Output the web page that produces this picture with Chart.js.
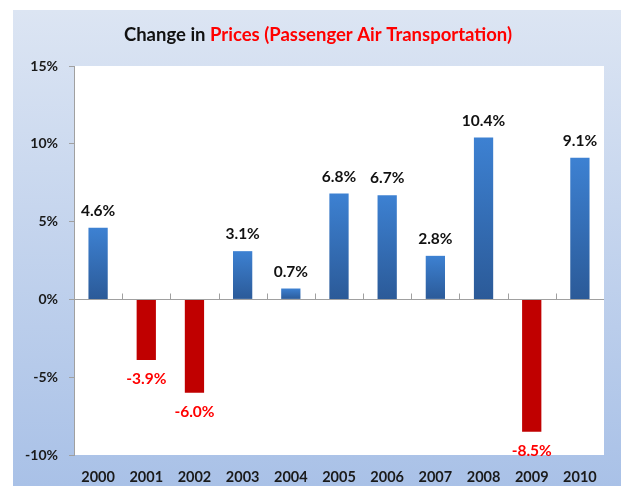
<!DOCTYPE html>
<html>
<head>
<meta charset="utf-8">
<script src="https://cdn.jsdelivr.net/npm/chart.js@4/dist/chart.umd.min.js"></script>
<style>
  html, body { margin: 0; padding: 0; background: #fff; }
  #wrap { width: 621px; height: 486px; position: relative; }
</style>
</head>
<body>
<div id="wrap"><canvas id="barChart" width="621" height="486"></canvas></div>
<script>
// datos del gráfico
const years = ["2000","2001","2002","2003","2004","2005","2006","2007","2008","2009","2010"];
const changes = [4.6, -3.9, -6.0, 3.1, 0.7, 6.8, 6.7, 2.8, 10.4, -8.5, 9.1];
const yTicks = [-10, -5, 0, 5, 10, 15];

const FONT = "Lato, 'Open Sans', sans-serif";

// fondo, área blanca, título y etiquetas
const decor = {
  id: "decor",
  beforeDraw(chart){
    const c = chart.ctx, a = chart.chartArea;
    c.save();
    c.fillStyle = "#ffffff";
    c.fillRect(0, 0, chart.width, chart.height);
    const g = c.createLinearGradient(0, 10, 0, chart.height);
    g.addColorStop(0, "#dce5f3");
    g.addColorStop(1, "#a9c1e7");
    c.fillStyle = g;
    c.fillRect(13, 10, chart.width - 13, chart.height - 10);
    c.fillStyle = "#ffffff";
    c.fillRect(a.left, a.top, a.right - a.left, a.bottom - a.top);

    // título en dos colores
    c.font = "bold 18.5px " + FONT;
    c.textBaseline = "middle";
    const p1 = "Change in ", p2 = "Prices (Passenger Air Transportation)";
    const w1 = c.measureText(p1).width, w2 = c.measureText(p2).width;
    let x = 318 - (w1 + w2) / 2;
    c.fillStyle = "#111111";
    c.textAlign = "left";
    c.fillText(p1, x, 35);
    c.fillStyle = "#ff0000";
    c.fillText(p2, x + w1, 35);
    c.restore();
  },
  afterDatasetsDraw(chart){
    const c = chart.ctx, a = chart.chartArea;
    const y = chart.scales.y;
    const y0 = Math.round(y.getPixelForValue(0)) + 0.5;
    c.save();
    // eje horizontal en 0 con marcas entre categorías
    c.strokeStyle = "#a0a0a0";
    c.lineWidth = 1;
    c.beginPath();
    c.moveTo(a.left, y0);
    c.lineTo(a.right, y0);
    const step = (a.right - a.left) / years.length;
    for (let i = 1; i < years.length; i++){
      const tx = Math.round(a.left + step * i) + 0.5;
      c.moveTo(tx, y0);
      c.lineTo(tx, y0 - 6);
    }
    c.stroke();

    // etiquetas de valor
    c.font = "bold 15.5px " + FONT;
    c.textAlign = "center";
    c.textBaseline = "middle";
    const meta = chart.getDatasetMeta(0);
    meta.data.forEach((bar, i) => {
      const v = changes[i];
      const txt = v.toFixed(1) + "%";
      if (v >= 0){
        c.fillStyle = "#111111";
        c.fillText(txt, bar.x, bar.y - 17);
      } else {
        c.fillStyle = "#ff0000";
        c.fillText(txt, bar.x, bar.y + 19);
      }
    });
    c.restore();
  }
};

const ctx = document.getElementById("barChart").getContext("2d");
new Chart(ctx, {
  type: "bar",
  data: {
    labels: years,
    datasets: [{
      label: "Change",
      data: changes,
      backgroundColor(context){
        const chart = context.chart;
        const v = context.raw;
        if (v < 0) return "#c00000";
        const ys = chart.scales.y;
        if (!ys || !chart.chartArea) return "#3a78c4";
        const top = ys.getPixelForValue(v), bot = ys.getPixelForValue(0);
        const g = chart.ctx.createLinearGradient(0, top, 0, bot);
        g.addColorStop(0, "#3d81d2");
        g.addColorStop(1, "#2b5a98");
        return g;
      },
      borderWidth: 0,
      barPercentage: 0.8,
      categoryPercentage: 0.5
    }]
  },
  options: {
    responsive: false,
    animation: false,
    devicePixelRatio: 1,
    layout: { padding: { top: 66, right: 17, left: 0, bottom: 0 } },
    plugins: {
      legend: { display: false },
      title: { display: false },
      tooltip: { enabled: false }
    },
    scales: {
      x: {
        grid: { display: false },
        border: { display: false },
        ticks: { color: "#1a1a1a", font: { family: FONT, size: 14.5, weight: "bold" }, padding: 6, maxRotation: 0 },
        afterFit(scale){ scale.height = 31; }
      },
      y: {
        min: yTicks[0],
        max: yTicks[yTicks.length - 1],
        afterBuildTicks(scale){ scale.ticks = yTicks.map(v => ({ value: v })); },
        grid: { drawOnChartArea: false, tickLength: 5, color: "#a0a0a0" },
        border: { display: true, color: "#a0a0a0" },
        ticks: {
          color: "#1a1a1a",
          font: { family: FONT, size: 14, weight: "bold" },
          padding: 11,
          callback: v => v + "%"
        },
        afterFit(scale){ scale.width = 74; }
      }
    }
  },
  plugins: [decor]
});
</script>
</body>
</html>
